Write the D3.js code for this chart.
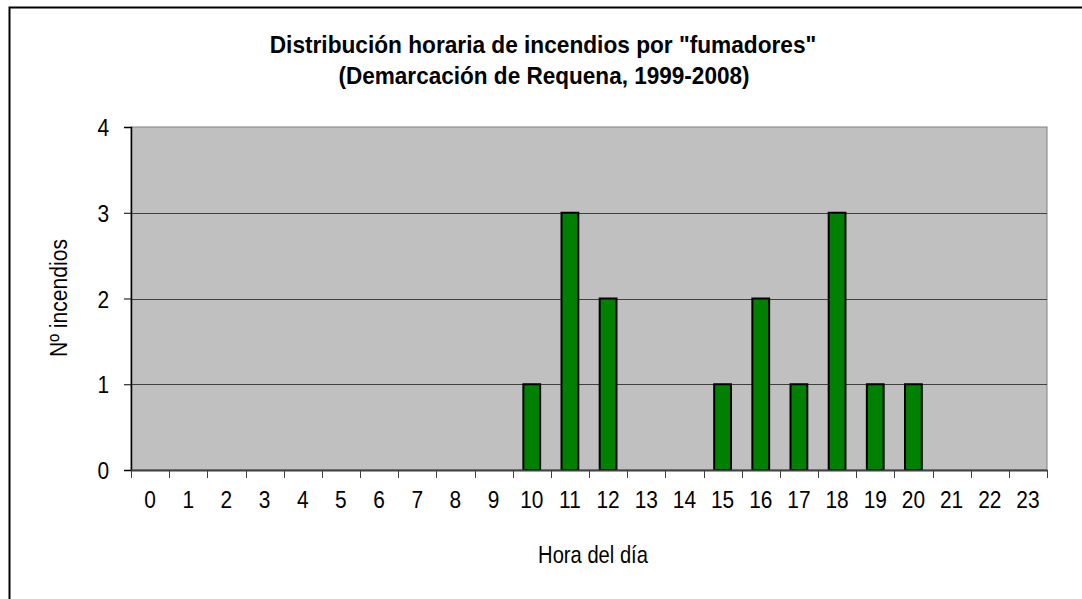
<!DOCTYPE html>
<html><head><meta charset="utf-8">
<script src="https://cdn.jsdelivr.net/npm/d3@7/dist/d3.min.js"></script>
<style>
html,body{margin:0;padding:0;background:#fff;}
svg text{font-family:"Liberation Sans Narrow","Arial Narrow","Liberation Sans",Arial,sans-serif;fill:#000;}
</style></head>
<body>
<svg id="chart" width="1082" height="599"></svg>
<script>
const hours = d3.range(0, 24).map(String);
const values = [0,0,0,0,0,0,0,0,0,0,1,3,2,0,0,1,2,1,3,1,1,0,0,0];
const yTicks = [0,1,2,3,4];
const title1 = 'Distribución horaria de incendios por "fumadores"';
const title2 = '(Demarcación de Requena, 1999-2008)';
const xTitle = 'Hora del día';
const yTitle = 'Nº incendios';

const svg = d3.select("#chart");
const L = 131, R = 1047, T = 127, B = 470;
const SX = 0.87;

svg.append("rect").attr("x",9.5).attr("y",7.5).attr("width",1100).attr("height",700)
  .attr("fill","#fff").attr("stroke","#000").attr("stroke-width",2);

const x = d3.scaleBand().domain(hours).range([L,R]).paddingInner(0).paddingOuter(0);
const y = d3.scaleLinear().domain([0,4]).range([B,T]);

svg.append("rect").attr("x",L).attr("y",T).attr("width",R-L).attr("height",B-T)
  .attr("fill","#c0c0c0").attr("stroke","#808080").attr("stroke-width",1);

svg.append("g").selectAll("line").data(yTicks.filter(d=>d>0&&d<4)).join("line")
  .attr("x1",L).attr("x2",R).attr("y1",d=>Math.round(y(d))+0.5).attr("y2",d=>Math.round(y(d))+0.5)
  .attr("stroke","#404040").attr("stroke-width",1);

const bw = x.bandwidth()*0.44;
svg.append("g").selectAll("rect").data(values.map((v,i)=>({h:hours[i],v}))).join("rect")
  .filter(d=>d.v>0)
  .attr("x",d=>x(d.h)+x.bandwidth()/2-bw/2)
  .attr("y",d=>y(d.v))
  .attr("width",bw)
  .attr("height",d=>y(0)-y(d.v))
  .attr("fill","#008000").attr("stroke","#000").attr("stroke-width",2);

// y axis
const ya = svg.append("g").attr("transform",`translate(${L},0)`)
  .call(d3.axisLeft(y).tickValues(yTicks).tickSize(7).tickFormat(d3.format("d")));
ya.select(".domain").attr("stroke","#000").attr("stroke-width",1.5);
ya.selectAll(".tick line").attr("stroke","#000");
ya.selectAll("text").attr("font-size",24).attr("x",-22/SX).attr("dy","0.36em")
  .attr("transform",`scale(${SX},1)`);

// x axis
const xa = svg.append("g").attr("transform",`translate(0,${B})`)
  .call(d3.axisBottom(x).tickSize(0));
xa.select(".domain").attr("stroke","#404040").attr("stroke-width",2);
xa.selectAll("text").attr("font-size",24).attr("y",21).attr("dy","0.71em")
  .attr("transform",`scale(${SX},1)`);
svg.append("g").selectAll("line").data(d3.range(0,25)).join("line")
  .attr("x1",i=>Math.round(L+i*x.step())+0.5).attr("x2",i=>Math.round(L+i*x.step())+0.5)
  .attr("y1",B).attr("y2",B+8).attr("stroke","#404040").attr("stroke-width",1);

function label(txt, tx, ty, size, sx, bold, rot){
  svg.append("text")
    .attr("transform",`translate(${tx},${ty})${rot?" rotate(-90)":""} scale(${sx},1)`)
    .attr("text-anchor","middle").attr("font-size",size)
    .attr("font-weight",bold?"bold":"normal").text(txt);
}
label(title1, 543, 53, 24, 0.945, true, false);
label(title2, 544, 84, 24, 0.94, true, false);
label(xTitle, 593, 563, 24, 0.84, false, false);
label(yTitle, 67, 298, 24, 0.88, false, true);
</script>
</body></html>
